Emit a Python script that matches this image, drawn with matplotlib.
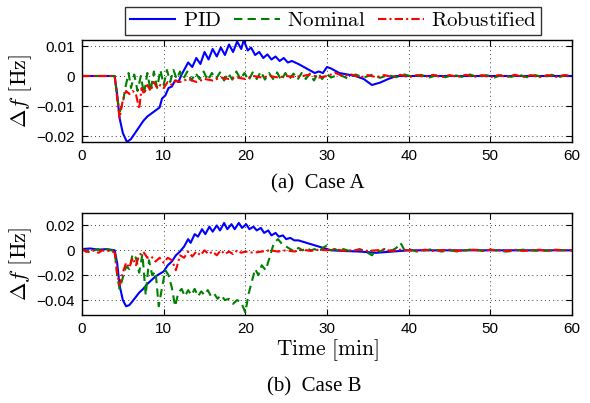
import numpy as np
import matplotlib
matplotlib.use("Agg")
import matplotlib.pyplot as plt

plt.rcParams['mathtext.fontset'] = 'cm'
plt.rcParams['font.family'] = ['Liberation Sans', 'DejaVu Sans']
plt.rcParams['axes.unicode_minus'] = False

# ---- Case A ----
pid_a_t = [0, 4, 4.3, 4.6, 5.0, 5.5, 6.0, 6.5, 7, 7.5, 8, 8.5, 9, 9.5, 9.8, 10.2, 10.6, 11, 11.4, 11.8, 12.2,
           12.5, 13.0, 13.5, 14.0, 14.5, 15.0, 15.5, 16.0, 16.5, 17.0, 17.5, 18.0, 18.5, 19.0, 19.5, 19.8,
           20.3, 20.7, 21.2, 21.7, 22.2, 22.7, 23.2, 23.7, 24.2, 24.7, 25.2, 25.7, 26.5, 27.5, 28.5, 29.0,
           29.5, 30.0, 30.5, 31.5, 32.5, 33.5, 34.5, 35.5, 36.5, 37.5, 38.5, 60]
pid_a_v = [0, 0, -0.006, -0.014, -0.019, -0.022, -0.021, -0.019, -0.017, -0.015, -0.0135, -0.0125, -0.0115,
           -0.0105, -0.0075, -0.0065, -0.004, -0.0035, -0.0015, -0.002, 0.0005,
           0.002, 0.0045, 0.003, 0.006, 0.004, 0.008, 0.0055, 0.009, 0.0065, 0.0095, 0.007, 0.0105, 0.008,
           0.0115, 0.009, 0.012, 0.0085, 0.0095, 0.007, 0.008, 0.006, 0.0072, 0.0055, 0.0065, 0.005, 0.006,
           0.0045, 0.005, 0.004, 0.0025, 0.001, 0.0015, 0.001, 0.003, 0.0025, 0.001, 0.0005, 0.0, -0.001,
           -0.003, -0.0022, -0.001, 0.0, 0.0]

nom_a_t = [0, 4, 4.3, 4.6, 5.0, 5.3, 5.7, 6.0, 6.4, 6.8, 7.2, 7.6, 8.0, 8.4, 8.8, 9.2, 9.6, 10.0, 10.4, 10.8,
           11.2, 11.6, 12.0, 12.4, 12.9, 13.4, 13.9, 14.4, 14.9, 15.4, 15.9, 16.4, 16.9, 17.4, 17.9, 18.4,
           18.9, 19.4, 19.9, 20.4, 20.9, 21.4, 21.9, 22.4, 22.9, 23.4, 23.9, 24.4, 24.9, 25.4, 25.9, 26.4,
           26.9, 27.4, 27.9, 28.4, 28.9, 29.4, 29.9, 30.5, 31.5, 32.5, 33.5, 34.5, 35.5, 36.5, 37.5, 38.5,
           39.5, 40.5, 41.5, 42.5, 43.5, 44.5, 45.5, 46.5, 47.5, 48.5, 49.5, 50.5, 51.5, 52.5, 53.5, 54.5,
           55.5, 56.5, 57.5, 58.5, 59.5, 60]
nom_a_v = [0, 0, -0.007, -0.012, -0.009, -0.004, 0.001, -0.004, 0.0005, -0.005, 0.0, -0.006, 0.001, -0.005,
           0.0015, -0.004, 0.002, -0.003, 0.002, -0.002, 0.002, -0.001, 0.0015, -0.001, 0.0015, -0.0015,
           0.001, -0.001, 0.0015, -0.0015, 0.001, -0.001, 0.0012, -0.0015, 0.001, -0.0012, 0.0015, -0.001,
           0.001, -0.0015, 0.0012, -0.001, 0.0015, -0.0012, 0.001, -0.001, 0.0012, -0.0015, 0.001, -0.001,
           0.0008, -0.0012, 0.001, -0.001, 0.0008, -0.0015, 0.001, -0.001, 0.0008, -0.0005, 0.0005, -0.0008,
           0.0005, -0.0005, 0.0004, -0.0006, 0.0003, -0.0004, 0.0005, -0.0003, 0.0004, -0.0005, 0.0003,
           -0.0004, 0.0004, -0.0003, 0.0005, -0.0004, 0.0003, -0.0005, 0.0004, -0.0003, 0.0004, -0.0004,
           0.0003, -0.0005, 0.0004, -0.0003, 0.0004, 0.0]

rob_a_t = [0, 4.0, 4.3, 4.6, 5.0, 5.4, 5.8, 6.2, 6.6, 7.0, 7.3, 7.6, 8.0, 8.4, 8.8, 9.2, 9.6, 10.0, 10.5, 11,
           11.5, 12, 13, 14, 15, 16, 17, 18, 19, 20, 21, 22, 23, 24, 25, 26, 27, 28, 29, 30, 31, 32, 33, 34,
           35, 36, 37, 38, 39, 40, 41, 42, 43, 44, 45, 46, 47, 48, 49, 50, 51, 52, 53, 54, 55, 56, 57, 58,
           59, 60]
rob_a_v = [0, 0, -0.007, -0.014, -0.008, -0.005, -0.006, -0.005, -0.006, -0.011, -0.004, -0.006, -0.003,
           -0.005, -0.002, -0.004, -0.003, -0.004, -0.002, -0.003, -0.0015, -0.002, -0.001, -0.002, -0.001,
           -0.0015, -0.0005, -0.001, -0.0005, -0.001, 0.0, -0.0005, 0.0, -0.0005, 0.0, -0.0003, 0.0, 0.0005,
           -0.0005, 0.0, 0.001, 0.0, 0.0005, -0.0005, 0.0003, -0.0004, 0.0003, -0.0003, 0.0004, -0.0004,
           0.0003, -0.0003, 0.0004, -0.0004, 0.0003, -0.0003, 0.0004, -0.0003, 0.0003, -0.0004, 0.0003,
           -0.0003, 0.0004, -0.0003, 0.0003, -0.0004, 0.0003, -0.0003, 0.0003, 0.0]

# ---- Case B ----
pid_b_t = [0, 1, 2, 3, 4, 4.3, 4.6, 5.0, 5.4, 5.8, 6.3, 7.0, 7.5, 8.0, 8.5, 9, 9.5, 10, 10.5, 11, 11.5, 12,
           12.5, 13.0, 13.3, 13.8, 14.2, 14.7, 15.1, 15.6, 16.0, 16.5, 16.9, 17.4, 17.8, 18.3, 18.7, 19.2,
           19.6, 20.1, 20.5, 21.0, 21.4, 21.9, 22.3, 22.8, 23.2, 23.7, 24.1, 24.6, 25.0, 25.5, 26.0, 26.5,
           27.5, 28.5, 29.5, 30.5, 32, 34, 36, 38, 40, 60]
pid_b_v = [0.001, 0.0015, 0.0005, 0.001, 0.0, -0.01, -0.028, -0.04, -0.045, -0.044, -0.04, -0.034, -0.031,
           -0.027, -0.024, -0.021, -0.019, -0.017, -0.012, -0.009, -0.004, -0.001, 0.003,
           0.009, 0.006, 0.013, 0.011, 0.017, 0.013, 0.019, 0.015, 0.020, 0.016, 0.022, 0.017, 0.021, 0.017,
           0.022, 0.018, 0.021, 0.017, 0.019, 0.016, 0.018, 0.014, 0.016, 0.012, 0.014, 0.011, 0.012, 0.009,
           0.010, 0.008, 0.008, 0.006, 0.004, 0.002, 0.0, -0.0005, -0.001, -0.002, -0.001, 0.0, 0.0]

nom_b_t = [0, 0.5, 1, 1.5, 2, 2.5, 3, 3.5, 4.0, 4.3, 4.6, 5.0, 5.4, 5.8, 6.2, 6.6, 7.0, 7.4, 7.8, 8.2, 8.6,
           9.0, 9.4, 9.8, 10.2, 10.6, 11.0, 11.4, 11.8, 12.2, 12.6, 13.0, 13.4, 13.8, 14.2, 14.6, 15.0, 15.4,
           15.8, 16.2, 16.6, 17.0, 17.5, 18.0, 18.5, 19.0, 19.5, 20.0, 20.4, 20.8, 21.2, 21.6, 22.0, 22.5,
           23.0, 23.5, 24.0, 24.5, 25.0, 25.5, 26, 26.5, 27, 27.5, 28, 28.5, 29, 29.5, 30, 30.5, 31, 31.5,
           32, 33, 34, 35, 35.5, 36, 36.5, 37, 38, 38.5, 39, 39.5, 40, 41, 42, 43, 44, 45, 46, 47, 48, 49,
           50, 52, 54, 56, 58, 60]
nom_b_v = [0.001, -0.001, 0.0015, 0.0, 0.001, -0.001, 0.001, 0.0, 0.0, -0.02, -0.031, -0.022, -0.013,
           -0.015, -0.003, -0.006, -0.018, -0.003, -0.036, -0.008, -0.02, -0.017, -0.045, -0.03, -0.016,
           -0.02, -0.03, -0.045, -0.034, -0.031, -0.037, -0.032, -0.036, -0.031, -0.037, -0.033, -0.036,
           -0.032, -0.037, -0.035, -0.039, -0.036, -0.04, -0.039, -0.043, -0.04, -0.042, -0.05, -0.035,
           -0.025, -0.015, -0.02, -0.012, -0.016, -0.005, 0.006, 0.009, 0.005, 0.003, 0.001,
           -0.001, 0.002, 0.0, 0.002, 0.0, 0.001, -0.001, 0.002, 0.004, 0.0, 0.001, -0.001, 0.001, -0.001,
           0.001, -0.002, -0.004, 0.0, -0.001, 0.001, 0.0, 0.002, 0.006, 0.0, 0.001, -0.001, 0.0, 0.001,
           -0.001, 0.0, -0.001, 0.0, 0.001, -0.0005, 0.0005, -0.001, 0.0005, -0.0005, 0.0, 0.0]

rob_b_t = [0, 0.5, 1, 1.5, 2, 2.5, 3, 3.5, 4.0, 4.3, 4.6, 5.0, 5.4, 5.8, 6.2, 6.6, 7.0, 7.5, 8.0, 8.5, 9.0,
           9.5, 10.0, 10.5, 11.0, 11.5, 12.0, 12.5, 13, 13.5, 14, 14.5, 15, 15.5, 16, 16.5, 17, 17.5, 18,
           18.5, 19, 19.5, 20, 21, 22, 23, 24, 25, 26, 27, 28, 29, 30, 31, 32, 33, 34, 35, 36, 37, 38, 39,
           40, 41, 42, 43, 44, 45, 46, 47, 48, 49, 50, 51, 52, 53, 54, 55, 56, 57, 58, 59, 60]
rob_b_v = [0.001, -0.001, -0.0015, 0.0, -0.002, 0.0, -0.001, 0.0, -0.002, -0.018, -0.028, -0.018, -0.01,
           -0.014, -0.006, -0.012, -0.004, -0.001, -0.006, -0.005, -0.009, -0.006, -0.01, -0.006, -0.008,
           -0.016, -0.004, -0.006, -0.001, -0.005, -0.001, -0.004, 0.0, -0.003, -0.001, -0.004, 0.0, -0.003,
           -0.001, -0.003, 0.0, -0.002, -0.001, -0.002, -0.001, 0.0, -0.001, 0.0, -0.001, 0.0005, -0.0005,
           0.0005, 0.0, 0.001, -0.0005, 0.0, 0.0005, -0.0005, 0.0, 0.0005, -0.0005, 0.0005, 0.0, -0.0005,
           0.0005, -0.0005, 0.0, 0.0005, -0.0005, 0.0, 0.0005, -0.0005, 0.0005, 0.0, -0.0005, 0.0005,
           -0.0005, 0.0, 0.0005, -0.0005, 0.0005, 0.0, 0.0]

series_labels = ["PID", "Nominal", "Robustified"]
xticks = [0, 10, 20, 30, 40, 50, 60]
yticks_a = [-0.02, -0.01, 0, 0.01]
ytick_labels_a = ["\u22120.02", "\u22120.01", "0", "0.01"]
yticks_b = [-0.04, -0.02, 0, 0.02]
ytick_labels_b = ["\u22120.04", "\u22120.02", "0", "0.02"]

W, H = 590, 403
fig = plt.figure(figsize=(W / 100, H / 100), dpi=100)


def px_axes(l, t, r, b):
    return fig.add_axes([l / W, 1 - b / H, (r - l) / W, (b - t) / H])


ax_a = px_axes(82, 40, 572, 142)
ax_b = px_axes(82, 213, 572, 315)

lw = 1.5
for ax, (pt, pv, nt, nv, rt, rv), yt, ytl, ylim in [
        (ax_a, (pid_a_t, pid_a_v, nom_a_t, nom_a_v, rob_a_t, rob_a_v), yticks_a, ytick_labels_a, (-0.022, 0.012)),
        (ax_b, (pid_b_t, pid_b_v, nom_b_t, nom_b_v, rob_b_t, rob_b_v), yticks_b, ytick_labels_b, (-0.052, 0.03))]:
    l1, = ax.plot(pt, pv, color='#0000ff', lw=lw, ls='-')
    l2, = ax.plot(nt, nv, color='#008000', lw=lw, ls=(0, (4, 2.5)))
    l3, = ax.plot(rt, rv, color='#ff0000', lw=lw, ls=(0, (4, 1.5, 1, 1.5)))
    ax.set_xlim(0, 60)
    ax.set_ylim(*ylim)
    ax.set_xticks(xticks)
    ax.set_yticks(yt)
    ax.set_yticklabels(ytl)
    ax.grid(True, color='black', ls=(0, (1, 4)), lw=0.6)
    ax.tick_params(direction='in', length=4, width=0.8, labelsize=11, top=True, right=True, pad=5)
    for s in ax.spines.values():
        s.set_linewidth(1.0)
    ax.set_ylabel(r'$\Delta f\ \mathrm{[Hz]}$', fontsize=16, labelpad=2)

ax_b.set_xlabel(r'$\mathrm{Time\ [min]}$', fontsize=15.5, labelpad=1)

leg = fig.legend([l1, l2, l3], [r'$\mathrm{PID}$', r'$\mathrm{Nominal}$', r'$\mathrm{Robustified}$'],
                 loc='center', bbox_to_anchor=(333 / W, 1 - 21 / H), ncol=3, fontsize=15,
                 frameon=True, fancybox=False, edgecolor='black', borderpad=0.2,
                 handlelength=2.2, columnspacing=0.6, handletextpad=0.35, borderaxespad=0.3)
leg.get_frame().set_linewidth(1.0)

fig.text(318 / W, 1 - 184 / H, '(a)  Case A', ha='center', va='center', fontsize=15,
         family='Liberation Serif')
fig.text(314 / W, 1 - 387 / H, '(b)  Case B', ha='center', va='center', fontsize=15,
         family='Liberation Serif')

fig.savefig('out.png', dpi=100)
